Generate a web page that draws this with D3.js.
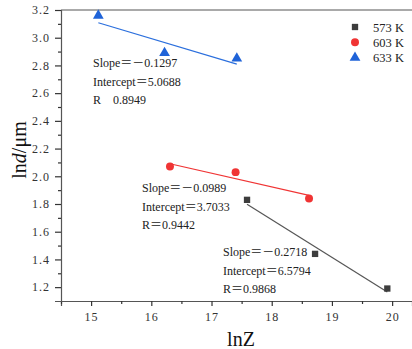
<!DOCTYPE html>
<html>
<head>
<meta charset="utf-8">
<script src="https://cdn.jsdelivr.net/npm/d3@7"></script>
<style>
  body { margin: 0; background: #fff; }
  svg { display: block; }
</style>
</head>
<body>
<svg id="chart" width="412" height="349"></svg>
<script>
// series
const seriesNames = ['573 K', '603 K', '633 K'];
const lnZ573 = [17.59, 18.72, 19.92];
const lnd573 = [1.83, 1.44, 1.19];
const lnZ603 = [16.31, 17.40, 18.62];
const lnd603 = [2.07, 2.03, 1.84];
const lnZ633 = [15.12, 16.22, 17.42];
const lnd633 = [3.16, 2.89, 2.85];

// fit results printed on the chart
const slopes = [-0.2718, -0.0989, -0.1297];
const intercepts = [6.5794, 3.7033, 5.0688];
const fitLabels = [
  ['Slope＝－0.2718', 'Intercept＝6.5794', 'R＝0.9868'],
  ['Slope＝－0.0989', 'Intercept＝3.7033', 'R＝0.9442'],
  ['Slope＝－0.1297', 'Intercept＝5.0688', 'R    0.8949']
];

const xTicks = [15, 16, 17, 18, 19, 20];
const yTicks = [1.2, 1.4, 1.6, 1.8, 2.0, 2.2, 2.4, 2.6, 2.8, 3.0, 3.2];

const colors = ['#3d3d3d', '#f03434', '#1f63d8'];
const lineColors = ['#555555', '#f03434', '#2b6fdd'];
const symbols = [d3.symbolSquare, d3.symbolCircle, d3.symbolTriangle];
const symSize = [40, 50, 50];

const serif = '"Liberation Serif", "Noto Sans CJK SC", serif';

const svg = d3.select('#chart');
const margin = {top: 10, right: 0, bottom: 48, left: 61};
const W = 412, H = 349;

const x = d3.scaleLinear().domain([14.5, 20.33]).range([margin.left, W - margin.right]);
const y = d3.scaleLinear().domain([1.1, 3.2]).range([H - margin.bottom, margin.top]);

// top frame line
svg.append('line')
  .attr('x1', margin.left).attr('x2', W)
  .attr('y1', margin.top).attr('y2', margin.top)
  .attr('stroke', '#555').attr('stroke-width', 1);

// axes
svg.append('g')
  .attr('transform', 'translate(0,' + (H - margin.bottom) + ')')
  .call(d3.axisBottom(x).tickValues(xTicks).tickSize(5).tickPadding(6).tickFormat(d3.format('d')));
svg.append('g')
  .attr('transform', 'translate(0,' + (H - margin.bottom) + ')')
  .call(d3.axisBottom(x).tickValues(d3.range(14.5, 20.4, 1)).tickSize(3).tickFormat(''))
  .select('.domain').remove();

svg.append('g')
  .attr('transform', 'translate(' + margin.left + ',0)')
  .call(d3.axisLeft(y).tickValues(yTicks).tickSize(6).tickPadding(5).tickFormat(d3.format('.1f')));
svg.append('g')
  .attr('transform', 'translate(' + margin.left + ',0)')
  .call(d3.axisLeft(y).tickValues(d3.range(1.3, 3.2, 0.2)).tickSize(3).tickFormat(''))
  .select('.domain').remove();

svg.selectAll('.domain').attr('stroke', '#555').attr('stroke-width', 1.2);
svg.selectAll('.tick line').attr('stroke', '#333').attr('stroke-width', 1.2);
svg.selectAll('.tick text')
  .style('font-family', serif)
  .style('font-size', '12px')
  .attr('letter-spacing', 1)
  .attr('fill', '#333');

// axis titles
svg.append('text')
  .attr('x', 241).attr('y', 346)
  .attr('text-anchor', 'middle')
  .style('font-family', serif)
  .style('font-size', '20px')
  .attr('fill', '#111')
  .text('lnZ');

const yt = svg.append('text')
  .attr('transform', 'translate(26,150) rotate(-90)')
  .attr('text-anchor', 'middle')
  .style('font-family', serif)
  .style('font-size', '20px')
  .attr('fill', '#111');
yt.append('tspan').text('ln');
yt.append('tspan').attr('font-style', 'italic').text('d');
yt.append('tspan').text('/μm');

// fit lines and points
const xs = [lnZ573, lnZ603, lnZ633];
const ys = [lnd573, lnd603, lnd633];

seriesNames.forEach((name, i) => {
  const ext = d3.extent(xs[i]);
  svg.append('line')
    .attr('x1', x(ext[0])).attr('x2', x(ext[1]))
    .attr('y1', y(intercepts[i] + slopes[i] * ext[0]))
    .attr('y2', y(intercepts[i] + slopes[i] * ext[1]))
    .attr('stroke', lineColors[i])
    .attr('stroke-width', 1.2);

  svg.append('g').selectAll('path')
    .data(xs[i].map((v, j) => [v, ys[i][j]]))
    .enter().append('path')
    .attr('transform', d => 'translate(' + x(d[0]) + ',' + y(d[1]) + ')')
    .attr('d', d3.symbol().type(symbols[i]).size(symSize[i]))
    .attr('fill', colors[i]);
});

// fit annotations
const labelPos = [[223, 256], [142, 192], [93, 67]];
fitLabels.forEach((lines, i) => {
  svg.append('g').selectAll('text')
    .data(lines)
    .enter().append('text')
    .attr('x', labelPos[i][0])
    .attr('y', (d, j) => labelPos[i][1] + j * 18.5)
    .style('font-family', serif)
    .style('font-size', '12px')
    .style('white-space', 'pre')
    .attr('fill', '#222')
    .text(d => d);
});

// legend
const legend = svg.append('g');
seriesNames.forEach((name, i) => {
  const ly = 27 + i * 15.3;
  legend.append('path')
    .attr('transform', 'translate(355,' + ly + ')')
    .attr('d', d3.symbol().type(symbols[i]).size(symSize[i]))
    .attr('fill', colors[i]);
  legend.append('text')
    .attr('x', 373).attr('y', ly + 4.5)
    .style('font-family', serif)
    .style('font-size', '12.5px')
    .attr('fill', '#222')
    .text(name);
});
</script>
</body>
</html>
